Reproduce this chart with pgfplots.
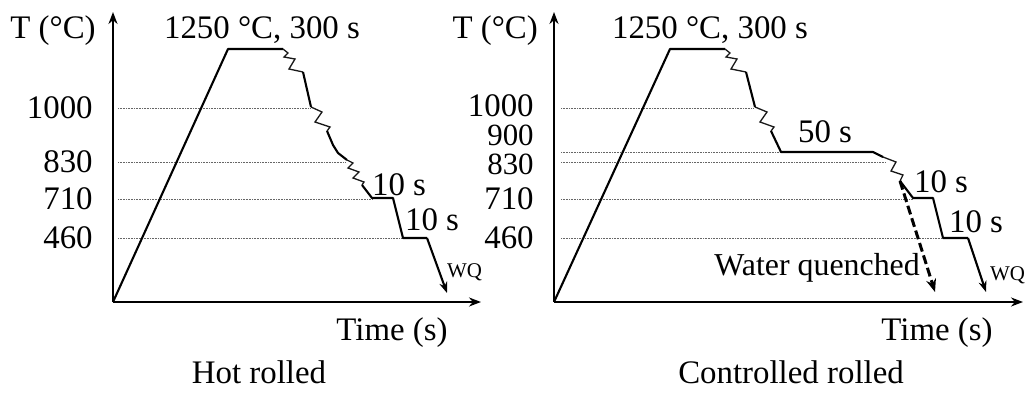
\documentclass[border=0pt]{standalone}
\usepackage{fontspec}
\setmainfont{Liberation Serif}
\usepackage{pgfplots}
\pgfplotsset{compat=1.18}
\usetikzlibrary{arrows.meta}
\newcommand{\bigf}{\fontsize{33}{39}\selectfont}
\newcommand{\midf}{\fontsize{31}{36}\selectfont}
\tikzset{
  lab/.style={font=\bigf, inner sep=0pt},
  wq/.style={font=\fontsize{21}{25}\selectfont, inner sep=0pt, anchor=base west},
}
\begin{document}
\begin{tikzpicture}[x=1bp,y=1bp]
\useasboundingbox (0,0) rectangle (1032,396);
\pgfplotsset{
  panel/.style={
    scale only axis, clip=false,
    axis lines=left,
    axis line style={line width=2.4bp, -{Stealth[length=12bp,width=9bp]}},
    ymin=94, ymax=384, height=290bp,
    xtick=\empty, ytick style={draw=none},
    yticklabel style={font=\bigf, inner sep=0pt, anchor=east, xshift=-18bp},
    anchor=south west,
  },
  thk/.style={line width=2.1bp, black, line join=round, no marks},
  thn/.style={line width=1.3bp, black!90, line join=miter, no marks},
  grd/.style={line width=0.6bp, densely dotted, black!60, no marks},
}
% ---------------- Hot rolled ----------------
\begin{axis}[panel, at={(113bp,94bp)}, xmin=113, xmax=481, width=368bp,
  ytick={288,234,197,158}, yticklabels={1000,830,710,460}]
\addplot[grd] coordinates {(118,288)(311,288)};
\addplot[grd] coordinates {(118,234)(346,234)};
\addplot[grd] coordinates {(118,197)(372,197)};
\addplot[grd] coordinates {(118,158)(403,158)};
\addplot[thk] coordinates {(113,94)(228,347)(283,347)};
\addplot[thn] coordinates {(283,347)(288,343)(284,339)(295,337)(289,327)(303,324)};
\addplot[thk] coordinates {(303,324)(311,289)};
\addplot[thn] coordinates {(311,289)(322,284)(315,274)(330,269)(327,265)};
\addplot[thk] coordinates {(327,265)(333,251)(338,243)(347,236)};
\addplot[thn] coordinates {(347,236)(353,233)(348,228)(359,224)(353,218)(364,214)(362,211)};
\addplot[thk] coordinates {(362,211)(372,198)(393,198)(403,158)(427,158)};
\addplot[thk, -{Stealth[length=11bp,width=8bp]}] coordinates {(427,158)(447,103)};
\node[lab, anchor=base] at (axis cs:53,358) {T (°C)};
\node[lab, anchor=base] at (axis cs:262,358) {1250 °C, 300 s};
\node[lab, anchor=base] at (axis cs:399,201) {10 s};
\node[lab, anchor=base] at (axis cs:432,166) {10 s};
\node[wq] at (axis cs:447,119) {WQ};
\node[lab, anchor=base] at (axis cs:392,56) {Time (s)};
\node[lab, anchor=base] at (axis cs:259,13) {Hot rolled};
\end{axis}
% ---------------- Controlled rolled ----------------
\begin{axis}[panel, at={(554bp,94bp)}, xmin=554, xmax=1023, width=469bp,
  ytick={290,261,232,197,158}, yticklabels={1000,{\midf 900},{\midf 830},710,460}]
\addplot[grd] coordinates {(561,288)(754,288)};
\addplot[grd] coordinates {(561,244)(781,244)};
\addplot[grd] coordinates {(561,234)(886,234)};
\addplot[grd] coordinates {(561,197)(913,197)};
\addplot[grd] coordinates {(561,158)(943,158)};
\addplot[thk] coordinates {(554,94)(670,347)(725,347)};
\addplot[thn] coordinates {(725,347)(730,343)(726,339)(737,337)(731,327)(746,324)};
\addplot[thk] coordinates {(746,324)(755,289)};
\addplot[thn] coordinates {(755,289)(767,284)(760,274)(774,269)(771,265)};
\addplot[thk] coordinates {(771,265)(781,244)(873,244)(883,239)};
\addplot[thn] coordinates {(883,239)(896,234)(891,225)(903,221)(900,215)};
\addplot[thk] coordinates {(900,215)(913,198)(933,198)(943,158)(968,158)};
\addplot[thk, -{Stealth[length=11bp,width=8bp]}] coordinates {(968,158)(986,104)};
\addplot[line width=3bp, black, dash pattern=on 9bp off 4bp, no marks,
  -{Stealth[length=13bp,width=10bp]}] coordinates {(900,215)(935,104)};
\node[lab, anchor=base east] at (axis cs:538,358) {T (°C)};
\node[lab, anchor=base] at (axis cs:710,358) {1250 °C, 300 s};
\node[lab, anchor=base] at (axis cs:825,254) {50 s};
\node[lab, anchor=base] at (axis cs:941,204) {10 s};
\node[lab, anchor=base] at (axis cs:976,164) {10 s};
\node[wq] at (axis cs:990,116) {WQ};
\node[font=\fontsize{32}{38}\selectfont, inner sep=0pt, anchor=base east] at (axis cs:920,121) {Water quenched};
\node[lab, anchor=base] at (axis cs:937,56) {Time (s)};
\node[lab, anchor=base] at (axis cs:791,13) {Controlled rolled};
\end{axis}
\end{tikzpicture}
\end{document}
